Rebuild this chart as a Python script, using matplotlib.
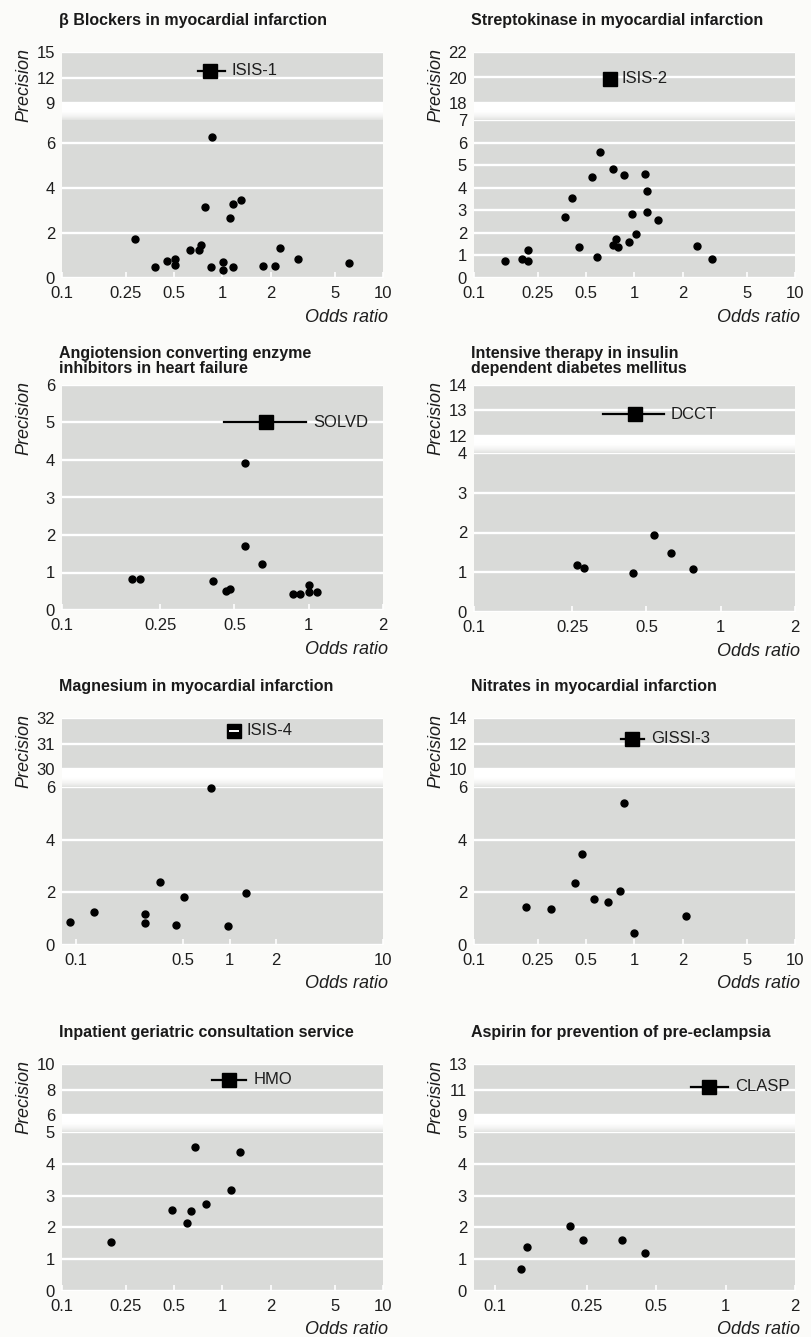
import numpy as np
import matplotlib
matplotlib.use("Agg")
import matplotlib.pyplot as plt
from matplotlib.colors import LinearSegmentedColormap

plt.rcParams['font.family'] = ['Liberation Sans', 'DejaVu Sans']

# ---- data ----
bb_title = "β Blockers in myocardial infarction"
bb_or = [0.284, 0.382, 0.451, 0.503, 0.503, 0.628, 0.714, 0.735, 0.778, 0.847, 0.86,
	1.01, 1.01, 1.12, 1.16, 1.17, 1.30, 1.79, 2.11, 2.27, 2.95, 6.14]
bb_prec = [1.73, 0.47, 0.77, 0.84, 0.56, 1.26, 1.23, 1.44, 3.14, 0.47, 6.25,
	0.71, 0.37, 2.67, 0.49, 3.27, 3.47, 0.55, 0.55, 1.35, 0.86, 0.65]
bb_trial = ["ISIS-1", 0.84, 0.70, 1.03, 12.77]

sk_title = "Streptokinase in myocardial infarction"
sk_or = [0.155, 0.20, 0.217, 0.218, 0.367, 0.408, 0.453, 0.546, 0.581, 0.612, 0.731, 0.734,
	0.767, 0.794, 0.856, 0.92, 0.969, 1.02, 1.16, 1.19, 1.20, 1.41, 2.44, 3.05]
sk_prec = [0.74, 0.84, 0.77, 1.22, 2.71, 3.53, 1.38, 4.48, 0.91, 5.57, 1.46, 4.83,
	1.72, 1.37, 4.57, 1.59, 2.83, 1.94, 4.62, 2.93, 3.84, 2.56, 1.40, 0.82]
sk_trial = ["ISIS-2", 0.70, 0.66, 0.75, 19.9]

ace_title = "Angiotension converting enzyme\ninhibitors in heart failure"
ace_or = [0.193, 0.207, 0.41, 0.463, 0.479, 0.554, 0.554, 0.644, 0.863, 0.919, 1.0, 1.0, 1.08]
ace_prec = [0.84, 0.83, 0.78, 0.52, 0.55, 3.91, 1.72, 1.24, 0.43, 0.44, 0.68, 0.47, 0.49]
ace_trial = ["SOLVD", 0.673, 0.454, 0.973, 5.0]

dm_title = "Intensive therapy in insulin\ndependent diabetes mellitus"
dm_or = [0.262, 0.279, 0.441, 0.538, 0.627, 0.773]
dm_prec = [1.18, 1.11, 0.98, 1.93, 1.49, 1.09]
dm_trial = ["DCCT", 0.449, 0.333, 0.589, 12.86]

mg_title = "Magnesium in myocardial infarction"
mg_or = [0.091, 0.130, 0.282, 0.283, 0.353, 0.449, 0.504, 0.755, 0.976, 1.285]
mg_prec = [0.86, 1.24, 1.17, 0.82, 2.39, 0.76, 1.81, 5.98, 0.72, 1.99]
mg_trial = ["ISIS-4", 1.07, 1.01, 1.13, 31.5]

ni_title = "Nitrates in myocardial infarction"
ni_or = [0.212, 0.30, 0.424, 0.473, 0.56, 0.687, 0.808, 0.86, 1.0, 2.10]
ni_prec = [1.45, 1.38, 2.36, 3.47, 1.73, 1.63, 2.06, 5.39, 0.44, 1.11]
ni_trial = ["GISSI-3", 0.969, 0.82, 1.146, 12.37]

ge_title = "Inpatient geriatric consultation service"
ge_or = [0.201, 0.484, 0.60, 0.633, 0.677, 0.785, 1.124, 1.29]
ge_prec = [1.55, 2.56, 2.14, 2.53, 4.52, 2.75, 3.18, 4.38]
ge_trial = ["HMO", 1.098, 0.86, 1.408, 8.78]

as_title = "Aspirin for prevention of pre-eclampsia"
as_or = [0.130, 0.137, 0.212, 0.241, 0.356, 0.447]
as_prec = [0.70, 1.38, 2.03, 1.61, 1.61, 1.18]
as_trial = ["CLASP", 0.847, 0.708, 1.027, 11.2]

x_wide = [0.1, 0.25, 0.5, 1, 2, 5, 10]
x_narrow = [0.1, 0.25, 0.5, 1, 2]
x_mg = [0.1, 0.5, 1, 2, 10]

# ---- layout (pixels) ----
W, H = 812, 1337
BG = '#d9dad8'
INK = '#1e1e1e'
fig = plt.figure(figsize=(W / 100, H / 100), dpi=100, facecolor='#fbfbf9')

band_cmap = LinearSegmentedColormap.from_list('band', ['#ffffff', '#ffffff', '#f4f4f3', '#e2e3e1'])


def px_axes(l, r, t, b):
	return fig.add_axes([l / W, 1 - b / H, (r - l) / W, (b - t) / H])


def fmt(v):
	return f"{v:g}"


def style(ax, xlim, yticks, ylim, show_x, xticks=None):
	ax.set_facecolor(BG)
	ax.set_xscale('log')
	ax.set_xlim(*xlim)
	ax.set_ylim(*ylim)
	for s in ax.spines.values():
		s.set_visible(False)
	ax.set_yticks(yticks)
	ax.set_yticklabels([fmt(v) for v in yticks])
	ax.tick_params(axis='y', length=0, pad=5, labelsize=12, labelcolor=INK)
	ax.grid(axis='y', color='white', lw=1.7)
	ax.set_axisbelow(True)
	if show_x:
		ax.set_xticks(xticks)
		ax.set_xticklabels([fmt(v) for v in xticks])
		ax.tick_params(axis='x', direction='in', length=4, width=1.2, color='white',
			pad=6, labelsize=12, labelcolor=INK)
	else:
		ax.set_xticks([])
	ax.yaxis.set_minor_locator(plt.NullLocator())
	ax.xaxis.set_minor_locator(plt.NullLocator())


def draw_trial(ax, trial, white_bar=False):
	name, t_or, lo, hi, prec = trial
	ax.plot([lo, hi], [prec, prec], color='black', lw=1.6, zorder=3)
	ax.plot([t_or], [prec], marker='s', ms=10, color='black', zorder=4)
	if white_bar:
		ax.plot([lo, hi], [prec, prec], color='white', lw=1.4, zorder=5)
	px_or = ax.transData.transform((t_or, prec))[0]
	px_hi = ax.transData.transform((hi, prec))[0]
	end = max(px_hi + 7, px_or + 12)
	ax.annotate(name, xy=(t_or, prec), xytext=(end - px_or, 0), textcoords='offset pixels',
		ha='left', va='center', fontsize=12, color=INK)


def draw_panel(box, title, ors, precs, trial, xlim, xticks, low, high=None, white_bar=False):
	if high is None:
		l, r, t, b = box
		ax = px_axes(l, r, t, b)
		style(ax, xlim, low, (low[0], low[-1]), True, xticks)
		ax.plot(ors, precs, 'o', ms=5, color='black', zorder=3, clip_on=False)
		draw_trial(ax, trial, white_bar)
	else:
		l, r, t, cut_t, cut_b, b = box
		top_ax = px_axes(l, r, t, cut_t)
		style(top_ax, xlim, high, (high[0], high[-1]), False)
		draw_trial(top_ax, trial, white_bar)
		band = px_axes(l, r, cut_t, cut_b)
		grad = np.linspace(0, 1, 64).reshape(-1, 1) ** 1.5
		band.imshow(grad, aspect='auto', cmap=band_cmap, extent=(0, 1, 0, 1), vmin=0, vmax=1)
		band.set_axis_off()
		ax = px_axes(l, r, cut_b, b)
		style(ax, xlim, low[0], (0, low[1]), True, xticks)
		ax.plot(ors, precs, 'o', ms=5, color='black', zorder=3, clip_on=False)
	fig.text((l - 3) / W, 1 - (t - 39) / H, title, ha='left', va='top', fontsize=11.5,
		fontweight='bold', linespacing=1.0, color='#1a1a1a')
	fig.text((l - 38) / W, 1 - (t - 4) / H, "Precision", rotation=90, ha='center', va='top',
		fontsize=13, style='italic', color=INK)
	fig.text((r + 5) / W, 1 - (b + 39) / H, "Odds ratio", ha='right', va='center',
		fontsize=13, style='italic', color=INK)


draw_panel((62, 383, 52, 103, 120, 278), bb_title, bb_or, bb_prec, bb_trial,
	(0.1, 10), x_wide, ([0, 2, 4, 6], 7), [9, 12, 15])
draw_panel((474, 795, 52, 103, 120, 278), sk_title, sk_or, sk_prec, sk_trial,
	(0.1, 10), x_wide, ([0, 1, 2, 3, 4, 5, 6, 7], 7), [18, 20, 22])
draw_panel((62, 383, 385, 610), ace_title, ace_or, ace_prec, ace_trial,
	(0.1, 2), x_narrow, [0, 1, 2, 3, 4, 5, 6])
draw_panel((474, 795, 385, 436, 453, 612), dm_title, dm_or, dm_prec, dm_trial,
	(0.1, 2), x_narrow, ([0, 1, 2, 3, 4], 4), [12, 13, 14])
draw_panel((62, 383, 718, 769, 787, 945), mg_title, mg_or, mg_prec, mg_trial,
	(0.081, 10), x_mg, ([0, 2, 4, 6], 6), [30, 31, 32], white_bar=True)
draw_panel((474, 795, 718, 769, 787, 945), ni_title, ni_or, ni_prec, ni_trial,
	(0.1, 10), x_wide, ([0, 2, 4, 6], 6), [10, 12, 14])
draw_panel((62, 383, 1064, 1115, 1132, 1291), ge_title, ge_or, ge_prec, ge_trial,
	(0.1, 10), x_wide, ([0, 1, 2, 3, 4, 5], 5), [6, 8, 10])
draw_panel((474, 795, 1064, 1115, 1132, 1291), as_title, as_or, as_prec, as_trial,
	(0.081, 2), x_narrow, ([0, 1, 2, 3, 4, 5], 5), [9, 11, 13])

fig.savefig("out.png", dpi=100, facecolor=fig.get_facecolor())
